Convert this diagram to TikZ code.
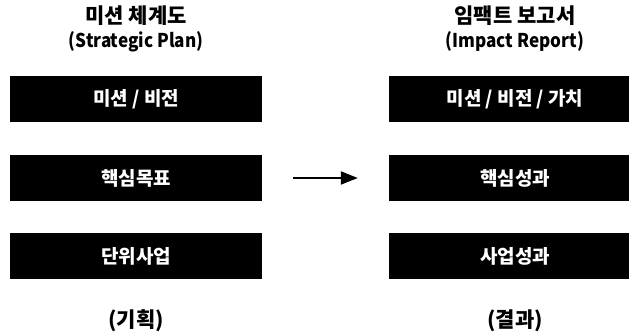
\documentclass[tikz,border=0pt]{standalone}
\usepackage{fontspec}
\setmainfont{Noto Sans CJK KR}
\newfontfamily\latnarrow{Noto Sans CJK KR}[FakeStretch=0.9]
\usetikzlibrary{arrows.meta}
\begin{document}
\begin{tikzpicture}[x=1pt,y=-1pt,
  box/.style={fill=black, text=white, minimum width=252pt, minimum height=46pt, inner sep=0pt, font=\bfseries\fontsize{19}{22}\selectfont},
  ttl/.style={anchor=base, inner sep=0pt, font=\bfseries\fontsize{21}{24}\selectfont},
  sub/.style={anchor=base, inner sep=0pt, font=\latnarrow\bfseries\fontsize{19}{22}\selectfont},
  arr/.style={line width=2pt, -{Triangle[length=17pt,width=13pt]}}]
\clip (0,0) rectangle (629,336);
\useasboundingbox (0,0) rectangle (629,336);
\node[ttl] (t1a) at (136,24) {미션 체계도};
\node[sub] (t1b) at (136,48) {(Strategic Plan)};
\node[ttl] (t2a) at (515,24) {임팩트 보고서};
\node[sub] (t2b) at (515,48) {(Impact Report)};
\node[box] (l1) at (136,99) {미션 / 비전};
\node[box] (l2) at (136,178) {핵심목표};
\node[box] (l3) at (136,256) {단위사업};
\node[box] (r1) at (515,99) {미션 / 비전 / 가치};
\node[box] (r2) at (515,178) {핵심성과};
\node[box] (r3) at (515,256) {사업성과};
\node[ttl] (b1) at (136,328) {(기획)};
\node[ttl] (b2) at (515,328) {(결과)};
\draw[arr, shorten <=31pt, shorten >=31pt] (l2.east) -- (r2.west);
\end{tikzpicture}
\end{document}
